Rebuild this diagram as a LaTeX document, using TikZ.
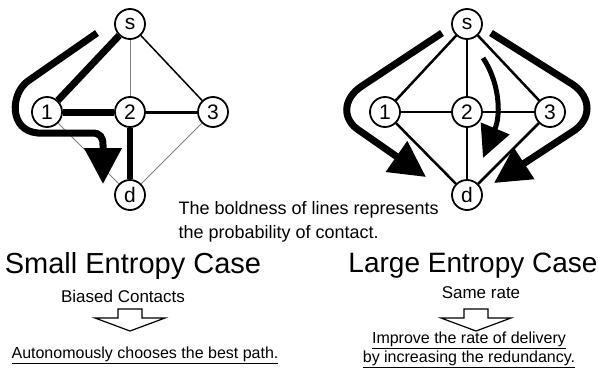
\documentclass[tikz,border=0pt]{standalone}
\usepackage{fontspec}
\setmainfont{Liberation Sans}
\usetikzlibrary{arrows.meta}
\begin{document}
\begin{tikzpicture}[x=1pt,y=-1pt,
    vertex/.style={circle,draw,line width=1.8pt,fill=white,minimum size=30pt,inner sep=0pt,font=\fontsize{21}{21}\selectfont},
    flow/.style={line width=7pt,-{Triangle[length=36pt,width=36pt]}}]
\useasboundingbox (0,0) rectangle (598,370);

% biased contacts
\foreach \n/\x/\y in {s/130/24,1/47/112,2/130/112,3/213/112,d/130/195}{
    \node[vertex] at (\x,\y)(L\n){\n};
}
\foreach \a/\b/\w/\c in {s/1/7/black,s/2/0.8/gray,s/3/1.5/black,1/2/7/black,2/3/3/black,2/d/6/black,1/d/0.8/gray,3/d/0.8/gray}{
    \draw[line width=\w pt,\c] (L\a) -- (L\b);
}
\draw[flow] (97,33) -- (28,81) .. controls (10,94) and (9,131) .. (38,133) -- (92,133) .. controls (100,133) and (103,137) .. (103,145) -- (103,184);

% same rate
\foreach \n/\x/\y in {s/467/24,1/385/112,2/467/112,3/550/112,d/467/195}{
    \node[vertex] at (\x,\y)(R\n){\n};
}
\foreach \a/\b in {s/1,s/2,s/3,1/2,2/3,1/d,2/d,3/d}{
    \draw[line width=2.5pt] (R\a) -- (R\b);
}
\draw[flow] (442,33) -- (362,86) .. controls (342,99) and (342,120) .. (360,131) -- (426,177);
\draw[flow] (491,33) -- (572,84) .. controls (592,97) and (592,120) .. (572,132) -- (494,183);
\draw[line width=5pt,-{Triangle[length=32pt,width=30pt]}] (483,58) .. controls (498,80) and (502,112) .. (483,158);

\node[font=\fontsize{18}{24}\selectfont,align=left,anchor=west] at (175,222)(note){The boldness of lines represents\\the probability of contact.};

\node[font=\fontsize{29}{29}\selectfont] at (133,266)(small){Small Entropy Case};
\node[font=\fontsize{28}{28}\selectfont] at (473,266)(large){Large Entropy Case};
\node[font=\fontsize{17}{17}\selectfont] at (123,296)(biased){Biased Contacts};
\node[font=\fontsize{17}{17}\selectfont] at (481,293)(same){Same rate};

% hollow arrows
\foreach \c in {130,476}{
    \draw[line width=1.2pt] (\c-12,309) -- (\c+12,309) -- (\c+12,318) -- (\c+35,318) -- (\c,331) -- (\c-35,318) -- (\c-12,318) -- cycle;
}

\node[font=\fontsize{16}{16}\selectfont] at (145,355)(auto){\underline{Autonomously chooses the best path.}};
\node[font=\fontsize{16}{19}\selectfont,align=center] at (469,350)(improve){\underline{Improve the rate of delivery}\\\underline{by increasing the redundancy.}};
\end{tikzpicture}
\end{document}
